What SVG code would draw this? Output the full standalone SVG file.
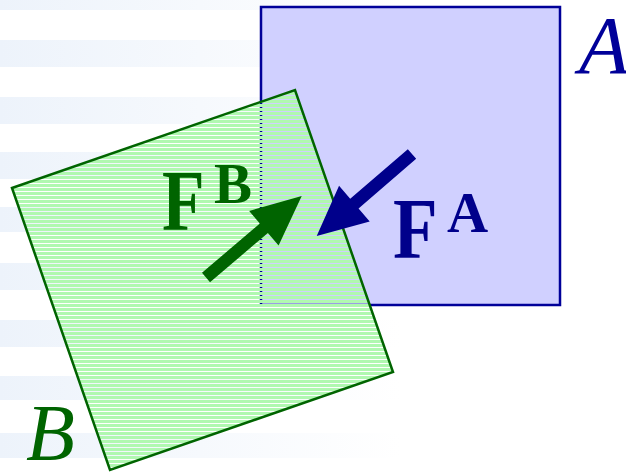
<svg xmlns="http://www.w3.org/2000/svg" width="626" height="473" viewBox="0 0 626 473">
<defs>
<linearGradient id="bg" x1="0" y1="0" x2="1" y2="0">
<stop offset="0" stop-color="#edf3fb"/>
<stop offset="0.5" stop-color="#f6f9fd"/>
<stop offset="1" stop-color="#ffffff"/>
</linearGradient>
<clipPath id="clipB">
<polygon points="12,188 295,90 393,372 110,470"/>
</clipPath>
<style>
.band{fill:url(#bg)}
</style>
</defs>
<rect width="626" height="473" fill="#ffffff"/>
<g id="background">
<rect class="band" x="0" y="-17" width="400" height="27"/>
<rect class="band" x="0" y="40" width="400" height="27"/>
<rect class="band" x="0" y="97" width="400" height="27"/>
<rect class="band" x="0" y="152" width="400" height="27"/>
<rect class="band" x="0" y="207" width="400" height="25"/>
<rect class="band" x="0" y="263" width="400" height="27"/>
<rect class="band" x="0" y="320" width="400" height="27"/>
<rect class="band" x="0" y="376" width="400" height="24"/>
<rect class="band" x="0" y="433" width="400" height="25"/>
</g>
<g id="nodeA">
<rect x="261" y="7" width="299" height="298" fill="#d0d0ff" stroke="#000099" stroke-width="2.5"/>
<text x="579" y="73" font-family="Liberation Serif, Times New Roman, serif" font-style="italic" font-size="82" fill="#000099">A</text>
</g>
<g id="nodeB">
<line x1="200" y1="88" x2="200" y2="472" stroke="#b0f8b0" stroke-width="400" stroke-dasharray="3 1" clip-path="url(#clipB)"/>
<polygon points="12,188 295,90 393,372 110,470" fill="none" stroke="#006400" stroke-width="2.5"/>
<text x="26" y="460" font-family="Liberation Serif, Times New Roman, serif" font-style="italic" font-size="80" fill="#006400">B</text>
</g>
<g id="connectors">
<polygon transform="translate(206,277.5) rotate(-40.4)" points="0,-6.2 76,-6.2 76,-22.7 125.7,0 76,22.7 76,6.2 0,6.2" fill="#006400"/>
<polygon transform="translate(412,154) rotate(139.3)" points="0,-6.4 76,-6.4 76,-23.5 125.7,0 76,23.5 76,6.4 0,6.4" fill="#00008b"/>
</g>
<g id="labelFB">
<text transform="translate(162,230) scale(0.8,1)" font-family="Liberation Serif, Times New Roman, serif" font-weight="bold" font-size="87" fill="#006400">F</text>
<text x="214" y="203" font-family="Liberation Serif, Times New Roman, serif" font-weight="bold" font-size="57" fill="#006400">B</text>
</g>
<g id="labelFA">
<text transform="translate(393,258) scale(0.84,1)" font-family="Liberation Serif, Times New Roman, serif" font-weight="bold" font-size="87" fill="#00008b">F</text>
<text x="447" y="232" font-family="Liberation Serif, Times New Roman, serif" font-weight="bold" font-size="57" fill="#00008b">A</text>
</g>
</svg>
